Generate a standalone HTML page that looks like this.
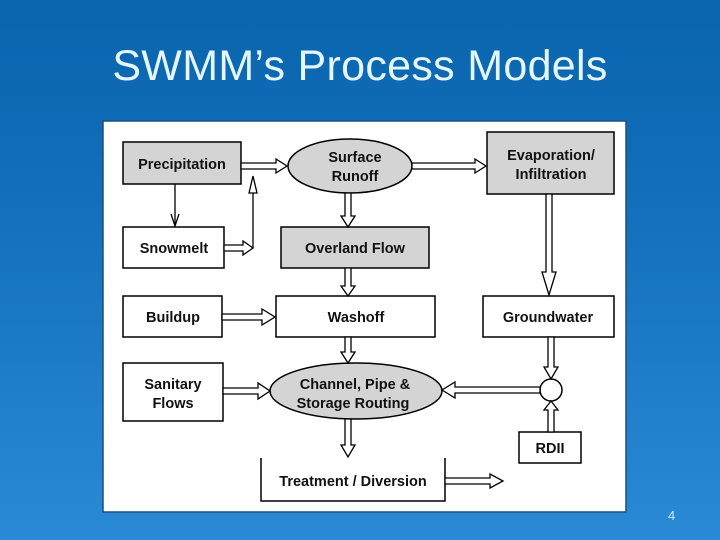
<!DOCTYPE html>
<html><head><meta charset="utf-8"><style>
html,body{margin:0;padding:0}
body{width:720px;height:540px;overflow:hidden;background:linear-gradient(#0a64ae 0%,#1470bb 40%,#2a8ad6 100%);position:relative;font-family:"Liberation Sans",sans-serif}
.t{position:absolute;left:0;width:720px;top:42px;text-align:center;color:#e4f6ff;font-size:43px;letter-spacing:0.3px}
.n{position:absolute;left:668px;top:508px;color:#cfe8ff;font-size:13px}
svg{position:absolute;left:0;top:0}
svg text{font-family:"Liberation Sans",sans-serif;font-weight:bold;font-size:14.5px;fill:#111;text-anchor:middle}
</style></head><body>
<div class="t">SWMM’s Process Models</div>
<div class="n">4</div>
<svg width="720" height="540" viewBox="0 0 720 540">
<rect x="103" y="121" width="523" height="391" fill="#fff" stroke="#1a4f80" stroke-width="1.5"/>
<g stroke="#000" stroke-width="1.5">
<rect x="123" y="142" width="118" height="42" fill="#d4d4d4"/>
<ellipse cx="350" cy="166" rx="62" ry="27" fill="#d4d4d4"/>
<rect x="487" y="132" width="127" height="62" fill="#d4d4d4"/>
<rect x="123" y="227" width="101" height="41" fill="#fff"/>
<rect x="281" y="227" width="148" height="41" fill="#d4d4d4"/>
<rect x="123" y="296" width="99" height="41" fill="#fff"/>
<rect x="276" y="296" width="159" height="41" fill="#fff"/>
<rect x="483" y="296" width="131" height="41" fill="#fff"/>
<rect x="123" y="363" width="100" height="58" fill="#fff"/>
<ellipse cx="356" cy="391" rx="86" ry="28" fill="#d4d4d4"/>
<circle cx="551" cy="390" r="11" fill="#fff"/>
<rect x="519" y="432" width="62" height="31" fill="#fff"/>
<polyline points="261,458 261,501 445,501 445,458" fill="none"/>
</g>
<g fill="none" stroke="#000" stroke-width="1.3">
<line x1="175" y1="184" x2="175" y2="225"/><polyline points="171,214 175,226 179,214"/>
<line x1="253" y1="248" x2="253" y2="178"/><polygon points="249,193 253,176 257,193" fill="#fff"/>
</g>
<g stroke="#000" stroke-width="1.3" fill="#fff">
<path d="M241,163H276V159L287,166L276,173V169H241Z"/>
<path d="M412,163H475V159L486,166L475,173V169H412Z"/>
<path d="M224,245H243V241L253,248L243,255V251H224Z"/>
<path d="M222,314H262V309L275,317L262,325V320H222Z"/>
<path d="M223,388H258V383L270,391L258,399V394H223Z"/>
<path d="M445,478H490V474L503,481L490,488V484H445Z"/>
<path d="M540,387H455V382L442,390L455,398V393H540Z"/>
<path d="M345,193V216H341L348,227L355,216H351V193Z"/>
<path d="M345,268V286H341L348,296L355,286H351V268Z"/>
<path d="M345,337V352H341L348,363L355,352H351V337Z"/>
<path d="M345,419V445H341L348,457L355,445H351V419Z"/>
<path d="M546,194V272H542L549,295L556,272H552V194Z"/>
<path d="M548,337V367H544L551,379L558,367H554V337Z"/>
<path d="M548,432V410H544L551,401L558,410H554V432Z"/>
</g>
<text x="182" y="169">Precipitation</text>
<text x="355" y="162">Surface</text><text x="355" y="181">Runoff</text>
<text x="551" y="160">Evaporation/</text><text x="551" y="179">Infiltration</text>
<text x="174" y="253">Snowmelt</text>
<text x="355" y="253">Overland Flow</text>
<text x="173" y="322">Buildup</text>
<text x="356" y="322">Washoff</text>
<text x="548" y="322">Groundwater</text>
<text x="173" y="389">Sanitary</text><text x="173" y="408">Flows</text>
<text x="355" y="389">Channel, Pipe &amp;</text><text x="353" y="408">Storage Routing</text>
<text x="550" y="453">RDII</text>
<text x="353" y="486">Treatment / Diversion</text>
</svg>
</body></html>
